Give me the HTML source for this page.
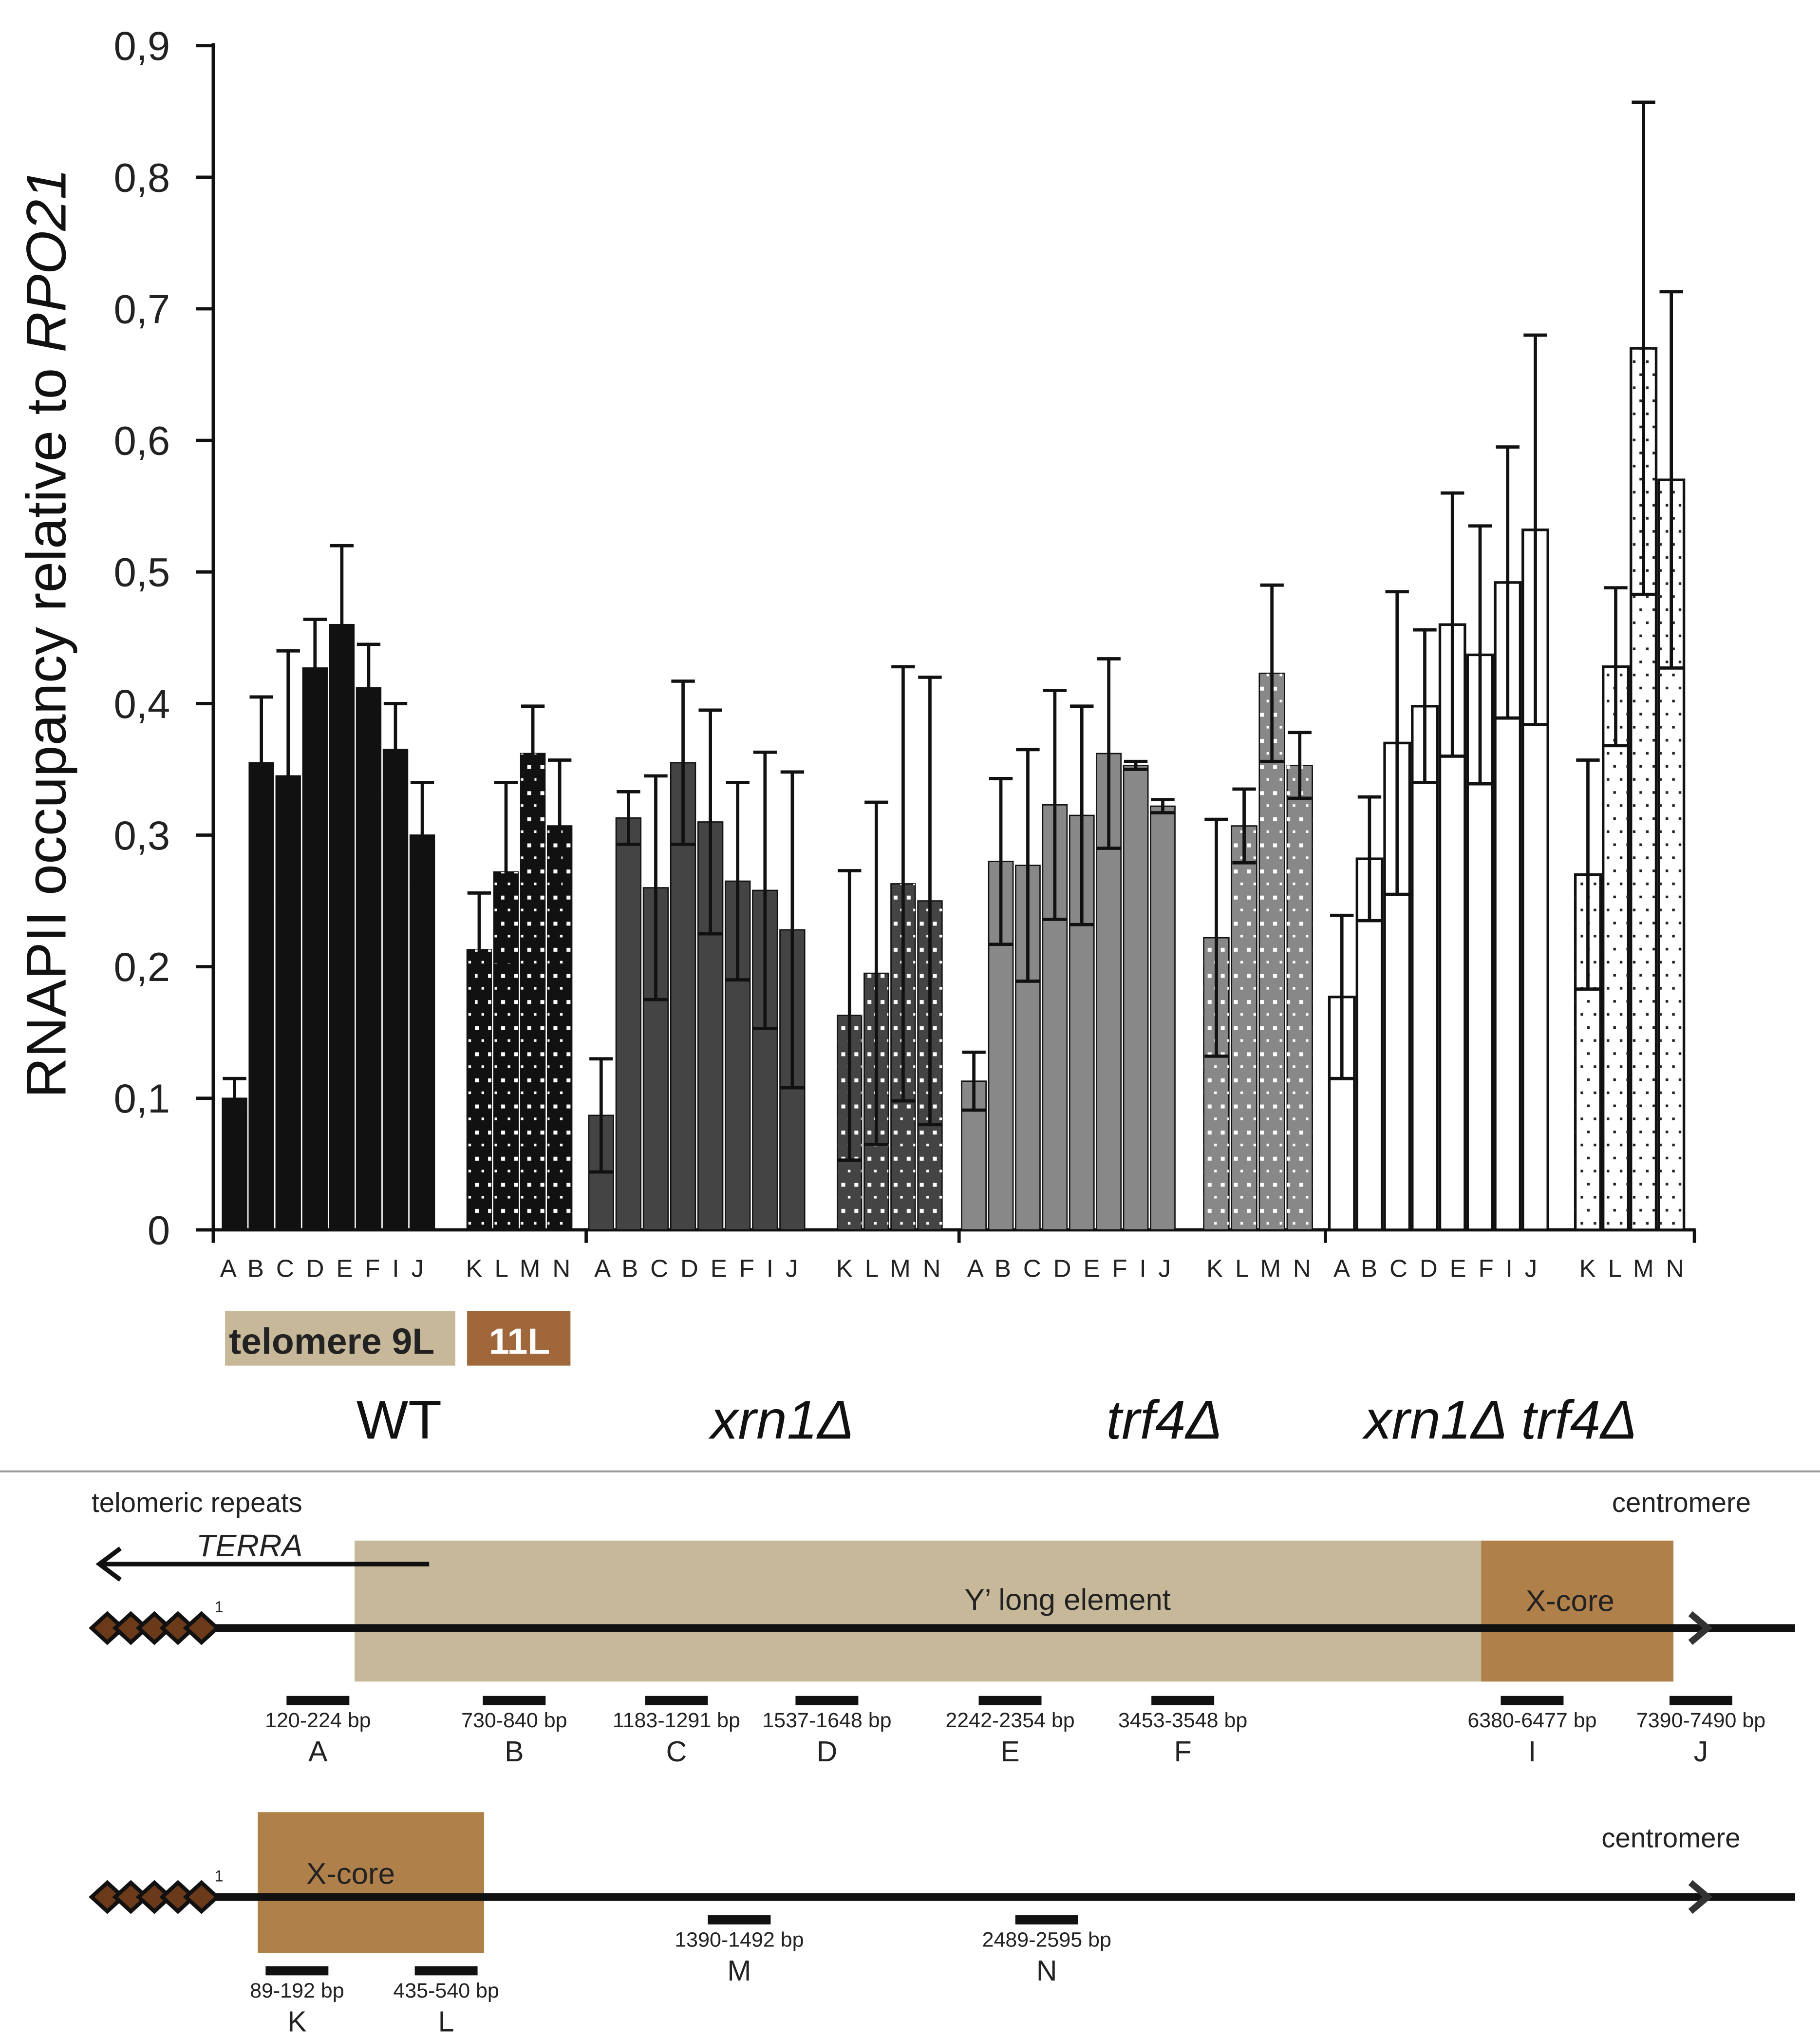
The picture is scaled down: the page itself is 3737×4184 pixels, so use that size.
<!DOCTYPE html>
<html><head><meta charset="utf-8"><style>
html,body{margin:0;padding:0;background:#fff;}
svg{display:block;}
text{font-family:"Liberation Sans",Arial,sans-serif;}
</style></head><body>
<svg id="fig" width="3737" height="4184" viewBox="0 0 1391 1561" preserveAspectRatio="none" xmlns="http://www.w3.org/2000/svg">
<defs>
<pattern id="dotW" width="10" height="20" patternUnits="userSpaceOnUse"><rect x="3" y="6" width="3" height="3" fill="#fff"/><rect x="8" y="16" width="2" height="2" fill="#fff"/></pattern>
<pattern id="dotK" width="10" height="20" patternUnits="userSpaceOnUse"><rect x="3" y="6" width="2" height="2" fill="#222"/><rect x="8" y="16" width="2" height="2" fill="#222"/></pattern>
</defs>
<g id="chart"></g>
<g id="diagram"></g>
</svg>
<script>
const yTicks = ["0","0,1","0,2","0,3","0,4","0,5","0,6","0,7","0,8","0,9"];
const strains = ["WT","xrn1Δ","trf4Δ","xrn1Δ trf4Δ"];
const cats9L = ["A","B","C","D","E","F","I","J"];
const cats11L = ["K","L","M","N"];
const wt9L = [0.10,0.355,0.345,0.427,0.46,0.412,0.365,0.30];
const wt9Lerr = [0.015,0.05,0.095,0.037,0.06,0.033,0.035,0.04];
const wt11L = [0.213,0.272,0.362,0.307];
const wt11Lerr = [0.043,0.068,0.036,0.05];
const xrn9L = [0.087,0.313,0.26,0.355,0.31,0.265,0.258,0.228];
const xrn9Lerr = [0.043,0.02,0.085,0.062,0.085,0.075,0.105,0.12];
const xrn11L = [0.163,0.195,0.263,0.25];
const xrn11Lerr = [0.11,0.13,0.165,0.17];
const trf9L = [0.113,0.28,0.277,0.323,0.315,0.362,0.353,0.322];
const trf9Lerr = [0.022,0.063,0.088,0.087,0.083,0.072,0.003,0.005];
const trf11L = [0.222,0.307,0.423,0.353];
const trf11Lerr = [0.09,0.028,0.067,0.025];
const dbl9L = [0.177,0.282,0.37,0.398,0.46,0.437,0.492,0.532];
const dbl9Lerr = [0.062,0.047,0.115,0.058,0.1,0.098,0.103,0.148];
const dbl11L = [0.27,0.428,0.67,0.57];
const dbl11Lerr = [0.087,0.06,0.187,0.143];

const NS="http://www.w3.org/2000/svg";
function mk(tag, attrs, parent, txt){const e=document.createElementNS(NS,tag);for(const k in attrs)e.setAttribute(k,attrs[k]);if(txt!==undefined)e.textContent=txt;parent.appendChild(e);return e;}
const chart=document.getElementById('chart');
const Y0=942, PER=1007.8;
function yS(v){return Y0-v*PER;}
let ax=mk('line',{x1:163,y1:33,x2:163,y2:944,stroke:'#111','stroke-width':2.5},chart);

let xa=mk('line',{x1:150,y1:942,x2:1296,y2:942,stroke:'#111','stroke-width':2.5},chart);

yTicks.forEach((t,i)=>{const y=yS(i*0.1);
 const l=mk('line',{x1:150,y1:y,x2:163,y2:y,stroke:'#111','stroke-width':2.5},chart);
 
 const tx=mk('text',{x:130,y:y+11,'text-anchor':'end','font-size':31,fill:'#222'},chart,t);
 });
[163,448,733,1013,1295].forEach(x=>{const l=mk('line',{x1:x,y1:942,x2:x,y2:952,stroke:'#111','stroke-width':2.5},chart);
 });
const yt=mk('text',{transform:'translate(50,485) rotate(-90)','text-anchor':'middle','font-size':43,fill:'#111'},chart);

yt.innerHTML='RNAPII occupancy relative to <tspan font-style="italic">RPO21</tspan>';

function drawGroup(vals, errs, cats, x0, x1, fill, pat, name){
 const n=vals.length, w=(x1-x0)/n;
 vals.forEach((v,i)=>{
  const bx=x0+i*w, top=yS(v);
  const r=mk('rect',{x:bx+1,y:top,width:w-2,height:Y0-top,fill:fill,stroke:'#111','stroke-width':fill==='#fff'?2:1},chart);
  
  if(pat){const p=mk('rect',{x:bx+1,y:top,width:w-2,height:Y0-top,fill:'url(#'+pat+')'},chart);
   }
  const cx=bx+w/2, hi=yS(v+errs[i]), lo=yS(Math.max(0,v-errs[i]));
  const g=mk('g',{stroke:'#111','stroke-width':2.5},chart);
  
  mk('line',{x1:cx,y1:hi,x2:cx,y2:lo},g);
  mk('line',{x1:cx-9,y1:hi,x2:cx+9,y2:hi},g);
  mk('line',{x1:cx-9,y1:lo,x2:cx+9,y2:lo},g);
 });
}
drawGroup(wt9L,wt9Lerr,cats9L,169,333,'#111',null,'wt-9L');
drawGroup(wt11L,wt11Lerr,cats11L,356,438,'#111','dotW','wt-11L');
drawGroup(xrn9L,xrn9Lerr,cats9L,449,616,'#444',null,'xrn1-9L');
drawGroup(xrn11L,xrn11Lerr,cats11L,639,721,'#444','dotW','xrn1-11L');
drawGroup(trf9L,trf9Lerr,cats9L,734,899,'#888',null,'trf4-9L');
drawGroup(trf11L,trf11Lerr,cats11L,919,1004,'#888','dotW','trf4-11L');
drawGroup(dbl9L,dbl9Lerr,cats9L,1015,1184,'#fff',null,'dbl-9L');
drawGroup(dbl11L,dbl11Lerr,cats11L,1203,1288,'#fff','dotK','dbl-11L');

const xlab=[["A B  C D E F  I   J",247],["K  L M N",397],["A  B C D E F  I   J",533],["K  L M N",680],["A B C  D E  F  I  J",818],["K L M N",963],["A B C D  E F  I    J",1098],["K L  M N",1248]];
xlab.forEach(([t,x])=>{const e=mk('text',{x:x,y:978,'text-anchor':'middle','font-size':19,fill:'#222','letter-spacing':2,'xml:space':'preserve'},chart,t);
 });
let lg=mk('rect',{x:172,y:1004,width:176,height:42,fill:'#c8b89a'},chart);
let lt=mk('text',{x:175,y:1037,'font-size':28,'font-weight':'bold',fill:'#222'},chart,'telomere 9L');
let lg2=mk('rect',{x:357,y:1004,width:79,height:42,fill:'#a0683a'},chart);
let lt2=mk('text',{x:397,y:1037,'font-size':28,'font-weight':'bold',fill:'#fff','text-anchor':'middle'},chart,'11L');
[[305,false],[598,true],[890,true],[1147,true]].forEach(([x,it],i)=>{const e=mk('text',{x:x,y:1102,'font-size':42,'text-anchor':'middle','font-style':it?'italic':'normal',fill:'#111'},chart,strains[i]);
 });
let dv=mk('line',{x1:0,y1:1127,x2:1391,y2:1127,stroke:'#999','stroke-width':1.5},chart);

const D=document.getElementById('diagram');
function T(x,y,s,t,name,extra){const e=mk('text',Object.assign({x:x,y:y,'font-size':s,fill:'#222'},extra||{}),D,t);return e;}
T(70,1158,21,'telomeric repeats','telomeric-repeats-label');
T(1232,1158,21,'centromere','centromere-label');
T(150,1192,24,'TERRA','terra-label',{'font-style':'italic'});
let r1=mk('rect',{x:271,y:1180,width:861,height:108,fill:'#c8b89a'},D);
let r2=mk('rect',{x:1132,y:1180,width:147,height:108,fill:'#b0804a'},D);
let ta=mk('path',{d:'M328 1198 H78 M92 1186 L76 1198 L92 1210',stroke:'#111','stroke-width':3.5,fill:'none'},D);
T(816,1233,23,"Y’ long element",'y-prime-label',{'text-anchor':'middle'});
T(1200,1234,23,'X-core','x-core-label',{'text-anchor':'middle'});
function chromo(y,name){
 const g=mk('g',{},D);
 mk('line',{x1:150,y1:y,x2:1372,y2:y,stroke:'#111','stroke-width':6},g);
 mk('path',{d:`M1292 ${y-11} L1305 ${y} L1292 ${y+11}`,stroke:'#333','stroke-width':5,fill:'none'},g);
 for(let i=0;i<5;i++){const x=70+i*18;mk('path',{d:`M${x} ${y} L${x+12} ${y-11} L${x+24} ${y} L${x+12} ${y+11} Z`,fill:'#6b3a1a',stroke:'#111','stroke-width':3},g);}
 mk('text',{x:164,y:y-12,'font-size':12,fill:'#222'},g,'1');
}
chromo(1247,'chromosome-9L');
const m9=[[243,'120-224 bp','A'],[393,'730-840 bp','B'],[517,'1183-1291 bp','C'],[632,'1537-1648 bp','D'],[772,'2242-2354 bp','E'],[904,'3453-3548 bp','F'],[1171,'6380-6477 bp','I'],[1300,'7390-7490 bp','J']];
function marks(list,yb,name){list.forEach(([x,bp,l])=>{const r=mk('rect',{x:x-24,y:yb,width:48,height:7,fill:'#111'},D);
 
 T(x,yb+24,16,bp,'amplicon-bp-label',{'text-anchor':'middle'});
 T(x,yb+50,22,l,'amplicon-letter',{'text-anchor':'middle'});});}
marks(m9,1299,'9L');
let r3=mk('rect',{x:197,y:1388,width:173,height:108,fill:'#b0804a'},D);
chromo(1453,'chromosome-11L');
T(268,1443,23,'X-core','x-core-11L-label',{'text-anchor':'middle'});
T(1224,1415,21,'centromere','centromere-label-11L');
marks([[227,'89-192 bp','K'],[341,'435-540 bp','L']],1506,'11L');
marks([[565,'1390-1492 bp','M'],[800,'2489-2595 bp','N']],1467,'11L');
</script>
</body></html>
